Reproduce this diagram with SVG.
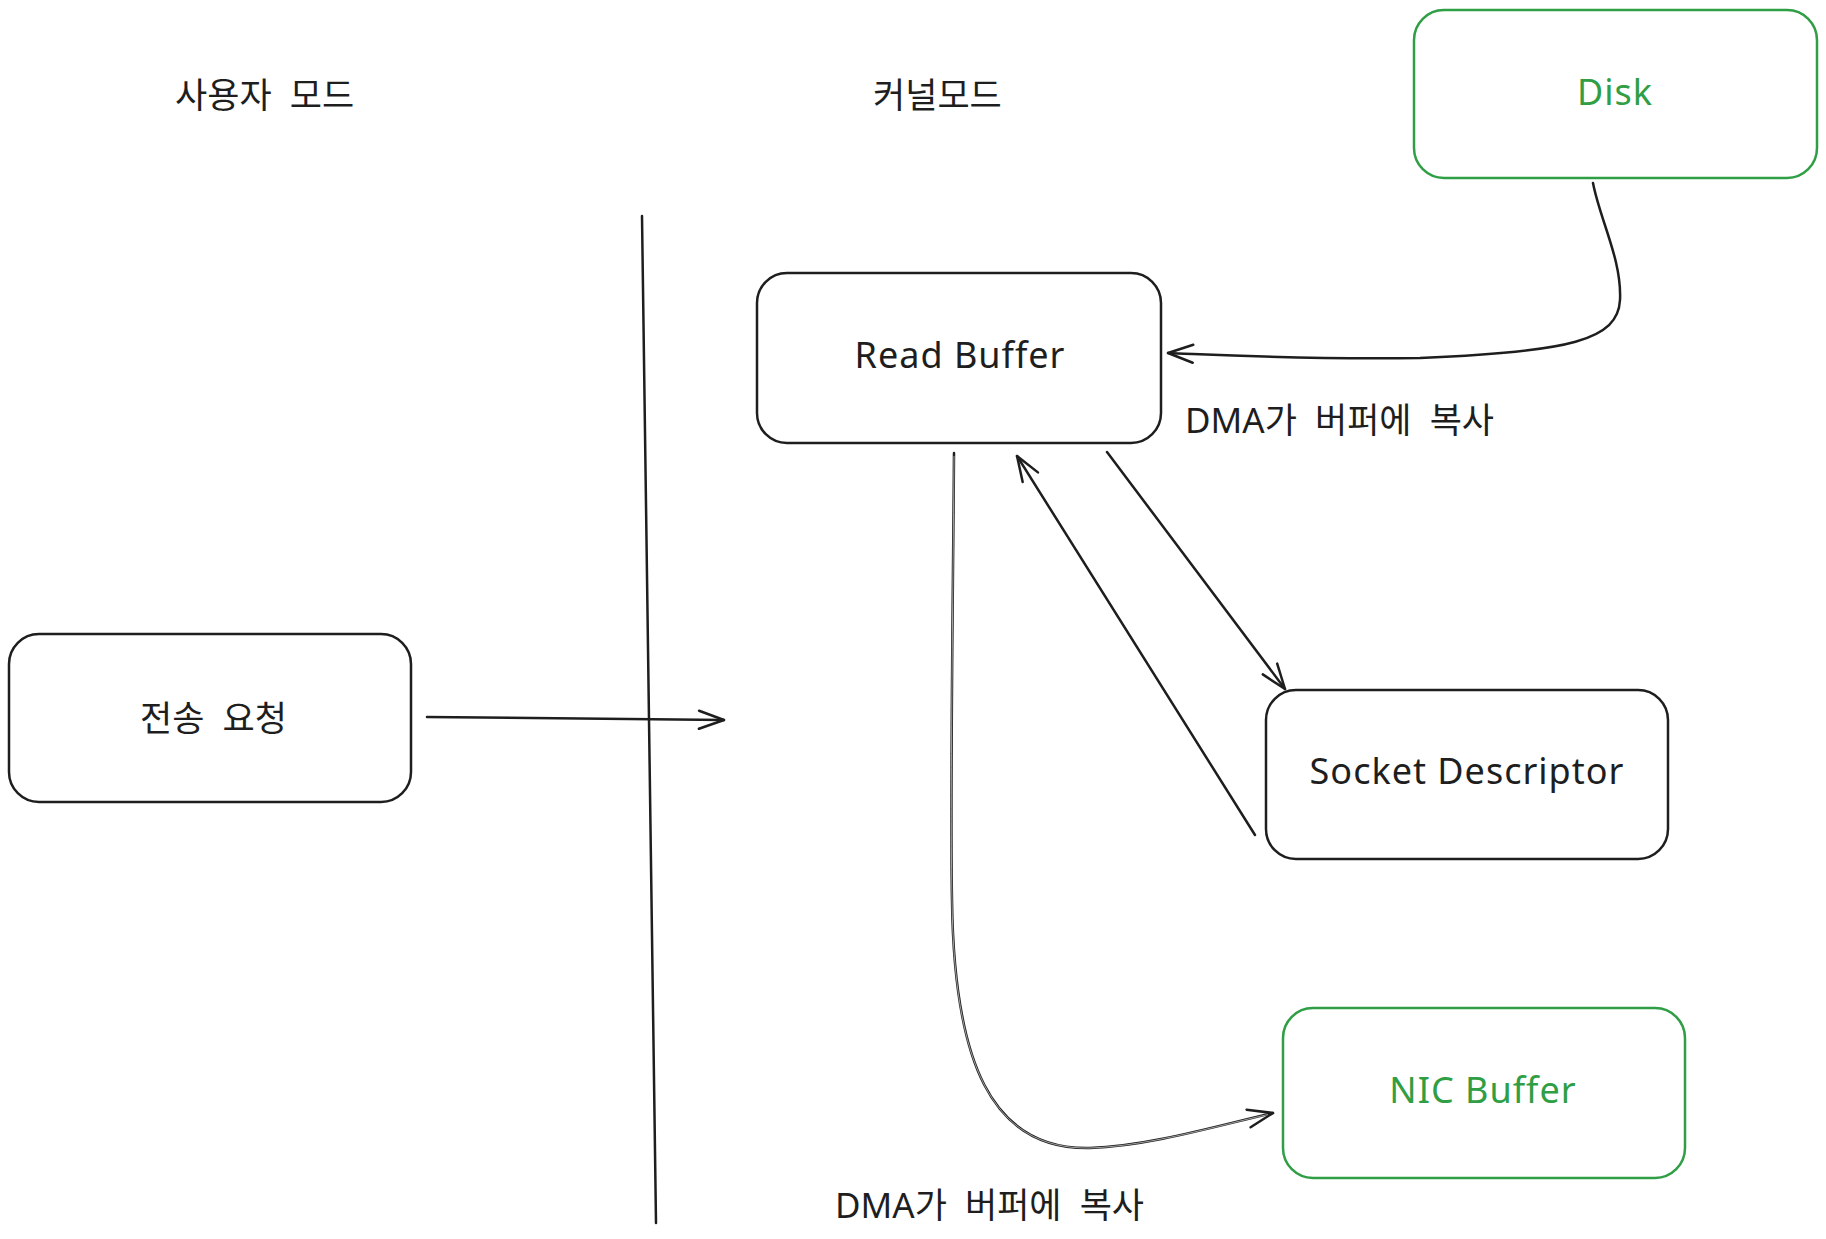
<svg xmlns="http://www.w3.org/2000/svg" width="1826" height="1239" viewBox="0 0 1826 1239">
<style>
.box{fill:#ffffff;stroke:#1e1e1e;stroke-width:2.5}
.gbox{fill:#ffffff;stroke:#2f9e44;stroke-width:2.5}
.lbl{font-family:"Noto Sans","Noto Sans CJK KR",sans-serif;font-size:36px;letter-spacing:1px;fill:#1e1e1e;text-anchor:middle}
.glbl{font-family:"Noto Sans","Noto Sans CJK KR",sans-serif;font-size:36px;letter-spacing:1px;fill:#2f9e44;text-anchor:middle}
.kr{font-family:"Noto Sans","Noto Sans CJK KR",sans-serif;font-size:35px;fill:#1e1e1e;word-spacing:9px}
.conn{fill:none;stroke:#1e1e1e;stroke-width:2.5;stroke-linecap:round;stroke-linejoin:round}
</style>
<defs>
<marker id="ah" markerUnits="userSpaceOnUse" markerWidth="40" markerHeight="40" viewBox="-30 -20 40 40" refX="0" refY="0" orient="auto" overflow="visible">
<path d="M -25 -9 L 0 0 L -25 9" fill="none" stroke="#1e1e1e" stroke-width="2.5" stroke-linecap="round" stroke-linejoin="round"/>
</marker>
</defs>
<rect width="1826" height="1239" fill="#ffffff"/>

<g id="label-user-mode"><text class="kr" x="175" y="108">사용자 모드</text></g>
<g id="label-kernel-mode"><text class="kr" x="873" y="108">커널모드</text></g>

<g id="node-disk">
<rect class="gbox" x="1414" y="10" width="403" height="168" rx="30"/>
<text class="glbl" x="1615" y="105">Disk</text>
</g>
<g id="node-read-buffer">
<rect class="box" x="757" y="273" width="404" height="170" rx="30"/>
<text class="lbl" x="960" y="368">Read Buffer</text>
</g>
<g id="node-request">
<rect class="box" x="9" y="634" width="402" height="168" rx="30"/>
<text class="kr" x="140" y="731">전송 요청</text>
</g>
<g id="node-socket">
<rect class="box" x="1266" y="690" width="402" height="169" rx="30"/>
<text class="lbl" x="1467" y="784">Socket Descriptor</text>
</g>
<g id="node-nic">
<rect class="gbox" x="1283" y="1008" width="402" height="170" rx="30"/>
<text class="glbl" x="1483" y="1103">NIC Buffer</text>
</g>

<g id="connectors">
<line class="conn" x1="642" y1="216" x2="656" y2="1223" stroke-width="3"/>
<path class="conn" d="M 427 717 L 724 720" marker-end="url(#ah)"/>
<path class="conn" d="M 1593 183 C 1600 220, 1622 260, 1620 300 C 1618 340, 1570 352, 1420 358 C 1300 360, 1200 354, 1168 353" marker-end="url(#ah)"/>
<path class="conn" d="M 1107 452 L 1285 689" marker-end="url(#ah)"/>
<path class="conn" d="M 1255 835 L 1017 456" marker-end="url(#ah)"/>
<path class="conn" d="M 954 453 C 953 600, 950 800, 952 900 C 954 1060, 990 1150, 1090 1148 C 1150 1146, 1220 1125, 1273 1113" stroke-width="3.2" marker-end="url(#ah)"/>
<path d="M 954 456 C 953 600, 950 800, 952 900 C 954 1060, 990 1150, 1090 1148 C 1150 1146, 1220 1125, 1268 1114.5" fill="none" stroke="#ffffff" stroke-width="0.7" stroke-opacity="0.85"/>
</g>

<g id="label-dma-1"><text class="kr" x="1185" y="433">DMA가 버퍼에 복사</text></g>
<g id="label-dma-2"><text class="kr" x="835" y="1218">DMA가 버퍼에 복사</text></g>
</svg>
